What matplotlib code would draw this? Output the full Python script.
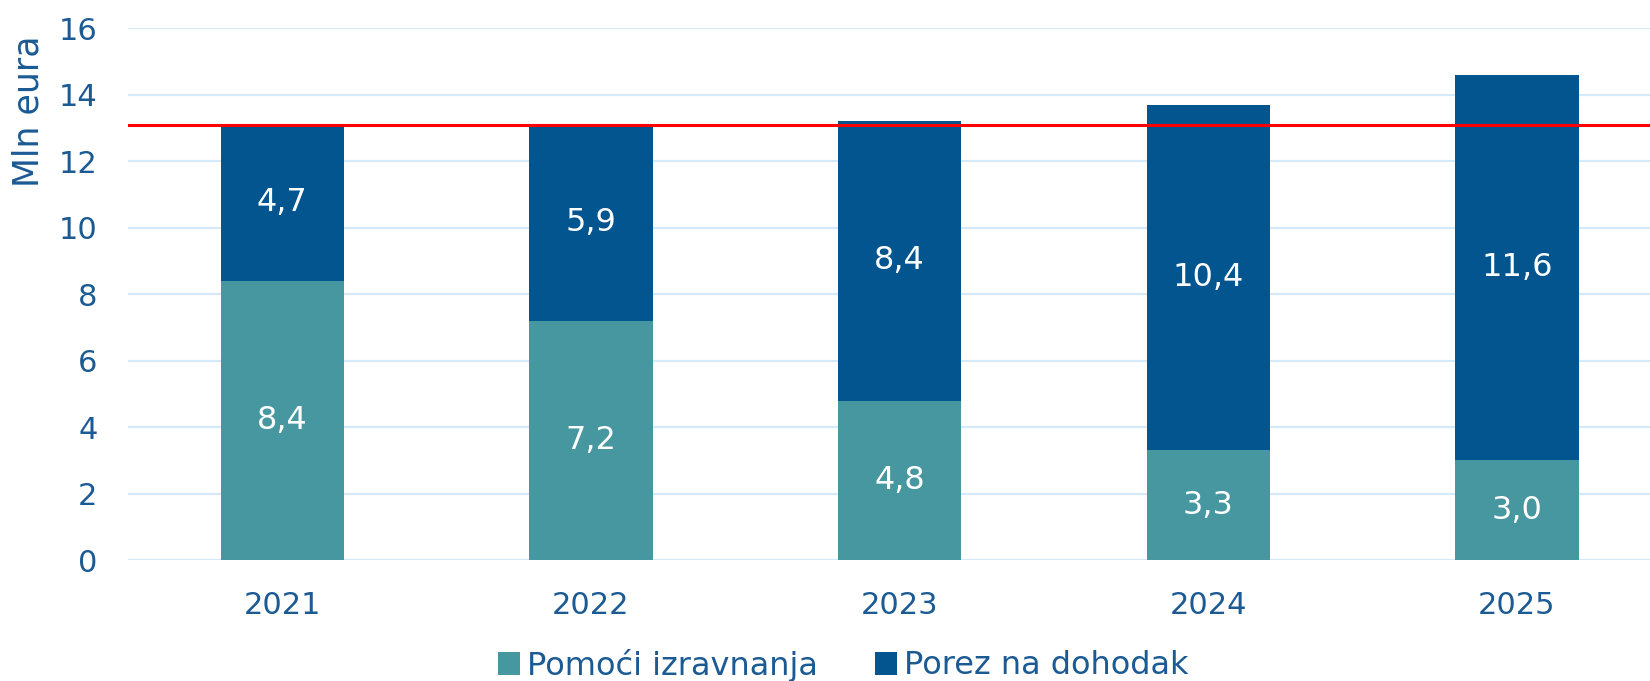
import numpy as np
import matplotlib
matplotlib.use('Agg')
import matplotlib.pyplot as plt

# data
years = ['2021', '2022', '2023', '2024', '2025']
pomoci = [8.4, 7.2, 4.8, 3.3, 3.0]
porez = [4.7, 5.9, 8.4, 10.4, 11.6]
ref_level = 13.1
series_names = ['Pomoći izravnanja', 'Porez na dohodak']

c_teal = '#4797A0'
c_blue = '#02558F'
c_text = '#1B5A93'
c_grid = '#D4EAFA'

plt.rcParams['font.family'] = ['DejaVu Sans']

fig = plt.figure(figsize=(16.5, 6.81), dpi=100)
ax = fig.add_axes([128/1650, 1 - 560/681, 1 - 128/1650, (560 - 28.4)/681])

x = np.arange(len(years))
b1 = ax.bar(x, pomoci, width=0.4, color=c_teal, label=series_names[0], zorder=3)
b2 = ax.bar(x, porez, width=0.4, bottom=pomoci, color=c_blue, label=series_names[1], zorder=3)

for i in range(len(years)):
    ax.text(x[i], pomoci[i]/2, f'{pomoci[i]:.1f}'.replace('.', ','), ha='center', va='center',
            color='white', fontsize=23, zorder=4)
    ax.text(x[i], pomoci[i] + porez[i]/2, f'{porez[i]:.1f}'.replace('.', ','), ha='center',
            va='center', color='white', fontsize=23, zorder=4)

ax.axhline(ref_level, color='#FF0000', lw=2.2, zorder=5)

ax.set_ylim(0, 16)
ax.set_yticks(range(0, 17, 2))
ax.set_xlim(-0.5, (1650 - 282.5)/308.6)
ax.set_xticks(x)
ax.set_xticklabels(years)
ax.yaxis.grid(True, color=c_grid, lw=1.6, zorder=0)
ax.set_axisbelow(True)
for s in ax.spines.values():
    s.set_visible(False)
ax.tick_params(axis='both', length=0, labelsize=22, labelcolor=c_text)
ax.tick_params(axis='x', pad=22)
ax.tick_params(axis='y', pad=22)

fig.text(29/1650, 1 - 111/681, 'Mln eura', rotation=90, ha='center', va='center',
         fontsize=25, color=c_text)

fig.legend(handles=[b1, b2], loc='center', bbox_to_anchor=(843/1650, 1 - 665/681), ncol=2,
           frameon=False, fontsize=23, labelcolor=c_text, handlelength=0.7, handleheight=0.7,
           handletextpad=0.2, columnspacing=1.8)

fig.savefig('out.png', dpi=100)
